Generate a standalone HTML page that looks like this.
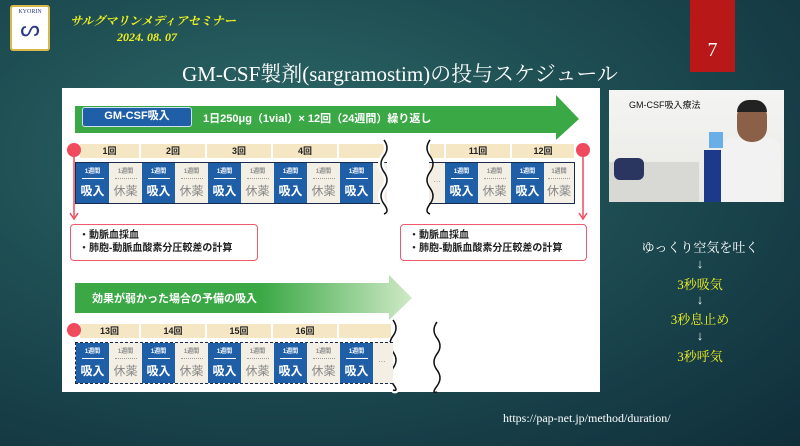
<!DOCTYPE html>
<html><head><meta charset="utf-8"><style>
*{margin:0;padding:0;box-sizing:border-box}
body{width:800px;height:446px;overflow:hidden;position:relative;font-family:"Liberation Sans","Noto Sans CJK JP",sans-serif;
background:radial-gradient(ellipse at 35% 35%,#2f6a6a 0%,#1f5054 40%,#163c46 75%,#0f2e3a 100%)}
.a{position:absolute}
.lbl{position:absolute;height:14px;background:#f5e6c4;font-size:9px;font-weight:bold;color:#222;text-align:center;line-height:14px}
.row{position:absolute;height:42px;background:#f3efe4}
.c{position:absolute;top:0;width:33px;height:100%;text-align:center}
.b{background:#1f5fa8;color:#fff}
.g{background:#f3efe4;color:#888}
.c .s{font-size:6px;font-weight:bold;margin-top:6px;line-height:7px}
.c .ln{width:22px;margin:2px auto 0;border-top:1.5px solid #fff}
.g .ln{border-top:1.5px dotted #999}
.c .m{font-size:12px;font-weight:bold;margin-top:3px}
.g .m{font-weight:normal}
.dot{position:absolute;width:14px;height:14px;border-radius:50%;background:#ef4a5e}
.box{position:absolute;border:1.5px solid #ef5a6c;border-radius:4px;background:#fff;font-size:10px;font-weight:bold;color:#222;padding:4px 0 0 8px;line-height:13px}
.y{color:#f0f020;font-family:"Liberation Serif","Noto Serif CJK SC",serif;font-size:13px;position:absolute;width:120px;text-align:center;left:640px}
.ar{color:#eee;font-size:13px;position:absolute;width:120px;text-align:center;left:640px}
</style></head><body>
<div class="a" style="left:10px;top:5px;width:40px;height:46px;background:#fff;border:2px solid #d8b84a;border-radius:3px;font-size:6px;color:#2a3a8a;text-align:center;font-family:'Liberation Serif',serif;padding-top:2px">KYORIN<div style="font-size:22px;line-height:28px">ᔕ</div></div>
<div class="a" style="left:70px;top:12px;font-family:'Liberation Serif','Noto Serif CJK SC',serif;font-style:italic;color:#f0f020;font-size:12px;font-weight:bold">サルグマリンメディアセミナー</div>
<div class="a" style="left:117px;top:30px;font-family:'Liberation Serif',serif;font-style:italic;color:#f0f020;font-size:12px;font-weight:bold">2024. 08. 07</div>
<div class="a" style="left:690px;top:0;width:45px;height:72px;background:#b81818;color:#fff;font-family:'Liberation Serif',serif;font-size:20px;text-align:center;line-height:100px">7</div>
<div class="a" style="left:0;width:800px;top:58px;text-align:center;color:#fff;font-family:'Liberation Serif','Noto Serif CJK SC',serif;font-size:21px">GM-CSF製剤(sargramostim)の投与スケジュール</div>

<div class="a" style="left:62px;top:88px;width:538px;height:304px;background:#fff"></div>

<svg class="a" style="left:0;top:0" width="800" height="446">
<defs><linearGradient id="gg" x1="0" x2="1"><stop offset="0" stop-color="#3aa845"/><stop offset="0.55" stop-color="#3aa845"/><stop offset="1" stop-color="#cfe9c6"/></linearGradient></defs>
<polygon points="75,106 556,106 556,95 579,119 556,140 556,133 75,133" fill="#3aa845"/>
<polygon points="75,283 389,283 389,275 412,298 389,320 389,313 75,313" fill="url(#gg)"/>
<line x1="74" y1="151" x2="74" y2="217" stroke="#ef4a5e" stroke-width="1.5"/>
<polyline points="70,213 74,219 78,213" fill="none" stroke="#ef4a5e" stroke-width="1.5"/>
<line x1="583" y1="151" x2="583" y2="217" stroke="#ef4a5e" stroke-width="1.5"/>
<polyline points="579,213 583,219 587,213" fill="none" stroke="#ef4a5e" stroke-width="1.5"/>
</svg>
<div class="a" style="left:82px;top:107px;width:110px;height:20px;background:#1f5fa8;border:1.5px solid #cfe0f5;border-radius:3px;color:#fff;font-size:11px;font-weight:bold;text-align:center;line-height:17px">GM-CSF吸入</div>
<div class="a" style="left:203px;top:110px;color:#fff;font-size:11px;font-weight:bold">1日250μg（1vial）× 12回（24週間）繰り返し</div>
<div class="a" style="left:92px;top:290px;color:#fff;font-size:11px;font-weight:bold">効果が弱かった場合の予備の吸入</div>

<div class="lbl" style="left:80px;top:144px;width:59px">1回</div>
<div class="lbl" style="left:141px;top:144px;width:64px">2回</div>
<div class="lbl" style="left:207px;top:144px;width:64px">3回</div>
<div class="lbl" style="left:273px;top:144px;width:64px">4回</div>
<div class="lbl" style="left:339px;top:144px;width:46px"></div>
<div class="lbl" style="left:430px;top:144px;width:14px"></div>
<div class="lbl" style="left:446px;top:144px;width:64px">11回</div>
<div class="lbl" style="left:512px;top:144px;width:62px">12回</div>
<div class="dot" style="left:67px;top:143px"></div>
<div class="dot" style="left:576px;top:143px"></div>

<div class="row" style="left:75px;top:162px;width:312px;border:1.5px solid #1a2a4a;border-right:none">
<div class="c b" style="left:0"><div class="s">1週間</div><div class="ln"></div><div class="m">吸入</div></div>
<div class="c g" style="left:33px"><div class="s">1週間</div><div class="ln"></div><div class="m">休薬</div></div>
<div class="c b" style="left:66px"><div class="s">1週間</div><div class="ln"></div><div class="m">吸入</div></div>
<div class="c g" style="left:99px"><div class="s">1週間</div><div class="ln"></div><div class="m">休薬</div></div>
<div class="c b" style="left:132px"><div class="s">1週間</div><div class="ln"></div><div class="m">吸入</div></div>
<div class="c g" style="left:165px"><div class="s">1週間</div><div class="ln"></div><div class="m">休薬</div></div>
<div class="c b" style="left:198px"><div class="s">1週間</div><div class="ln"></div><div class="m">吸入</div></div>
<div class="c g" style="left:231px"><div class="s">1週間</div><div class="ln"></div><div class="m">休薬</div></div>
<div class="c b" style="left:264px"><div class="s">1週間</div><div class="ln"></div><div class="m">吸入</div></div>
</div>
<div class="row" style="left:429px;top:162px;width:146px;border:1.5px solid #1a2a4a;border-left:none">
<div class="c g" style="left:0;width:16px;font-size:8px;line-height:34px">…</div>
<div class="c b" style="left:16px"><div class="s">1週間</div><div class="ln"></div><div class="m">吸入</div></div>
<div class="c g" style="left:49px"><div class="s">1週間</div><div class="ln"></div><div class="m">休薬</div></div>
<div class="c b" style="left:82px"><div class="s">1週間</div><div class="ln"></div><div class="m">吸入</div></div>
<div class="c g" style="left:115px;width:30px"><div class="s">1週間</div><div class="ln"></div><div class="m">休薬</div></div>
</div>
<svg class="a" style="left:0;top:0" width="800" height="446" fill="none" stroke="#111" stroke-width="1.5">
<path d="M384,140 q6,8 0,16 q-6,8 0,16 q6,8 0,16 q-6,8 0,16 q6,8 0,10" stroke="#fff" stroke-width="6"/>
<path d="M384,140 q6,8 0,16 q-6,8 0,16 q6,8 0,16 q-6,8 0,16 q6,8 0,10"/>
<path d="M430,140 q-6,8 0,16 q6,8 0,16 q-6,8 0,16 q6,8 0,16 q-6,8 0,10"/>
<path d="M393,320 q6,8 0,16 q-6,8 0,16 q6,8 0,16 q-6,8 0,16 q6,8 0,6" stroke="#fff" stroke-width="6"/>
<path d="M393,320 q6,8 0,16 q-6,8 0,16 q6,8 0,16 q-6,8 0,16 q6,8 0,6"/>
<path d="M437,322 q-6,8 0,16 q6,8 0,16 q-6,8 0,16 q6,8 0,16 q-6,8 0,6"/>
</svg>

<div class="box" style="left:70px;top:224px;width:188px;height:37px">・動脈血採血<br>・肺胞-動脈血酸素分圧較差の計算</div>
<div class="box" style="left:400px;top:224px;width:187px;height:37px">・動脈血採血<br>・肺胞-動脈血酸素分圧較差の計算</div>

<div class="lbl" style="left:80px;top:324px;width:59px">13回</div>
<div class="lbl" style="left:141px;top:324px;width:64px">14回</div>
<div class="lbl" style="left:207px;top:324px;width:64px">15回</div>
<div class="lbl" style="left:273px;top:324px;width:64px">16回</div>
<div class="lbl" style="left:339px;top:324px;width:52px"></div>
<div class="dot" style="left:67px;top:323px"></div>
<div class="row" style="left:75px;top:342px;width:318px;border:1.5px dashed #1a2a4a;border-right:none">
<div class="c b" style="left:0"><div class="s">1週間</div><div class="ln"></div><div class="m">吸入</div></div>
<div class="c g" style="left:33px"><div class="s">1週間</div><div class="ln"></div><div class="m">休薬</div></div>
<div class="c b" style="left:66px"><div class="s">1週間</div><div class="ln"></div><div class="m">吸入</div></div>
<div class="c g" style="left:99px"><div class="s">1週間</div><div class="ln"></div><div class="m">休薬</div></div>
<div class="c b" style="left:132px"><div class="s">1週間</div><div class="ln"></div><div class="m">吸入</div></div>
<div class="c g" style="left:165px"><div class="s">1週間</div><div class="ln"></div><div class="m">休薬</div></div>
<div class="c b" style="left:198px"><div class="s">1週間</div><div class="ln"></div><div class="m">吸入</div></div>
<div class="c g" style="left:231px"><div class="s">1週間</div><div class="ln"></div><div class="m">休薬</div></div>
<div class="c b" style="left:264px"><div class="s">1週間</div><div class="ln"></div><div class="m">吸入</div></div>
<div class="c g" style="left:297px;width:18px;font-size:8px;line-height:34px">…</div>
</div>

<div class="a" style="left:609px;top:90px;width:175px;height:112px;background:linear-gradient(#f4f4f2,#e8e8e4);overflow:hidden">
<div class="a" style="left:20px;top:8px;font-size:9px;color:#111">GM-CSF吸入療法</div>
<div class="a" style="left:0;top:72px;width:90px;height:40px;background:#d8d8d4"></div>
<div class="a" style="left:5px;top:68px;width:30px;height:22px;background:#2a3560;border-radius:6px"></div>
<div class="a" style="left:95px;top:60px;width:35px;height:52px;background:#1d3a8a"></div>
<div class="a" style="left:112px;top:48px;width:60px;height:64px;background:#f2f2f2;border-radius:12px 12px 0 0"></div>
<div class="a" style="left:128px;top:12px;width:30px;height:40px;background:#8a6048;border-radius:14px"></div>
<div class="a" style="left:128px;top:10px;width:30px;height:12px;background:#222;border-radius:12px 12px 0 0"></div>
<div class="a" style="left:100px;top:42px;width:14px;height:16px;background:#6aaee8"></div>
</div>

<div class="ar" style="top:237px;color:#fff;font-family:'Liberation Serif','Noto Serif CJK SC',serif">ゆっくり空気を吐く</div>
<div class="ar" style="top:256px">↓</div>
<div class="y" style="top:274px">3秒吸気</div>
<div class="ar" style="top:292px">↓</div>
<div class="y" style="top:309px">3秒息止め</div>
<div class="ar" style="top:328px">↓</div>
<div class="y" style="top:346px">3秒呼気</div>
<div class="a" style="left:503px;top:411px;color:#fff;font-family:'Liberation Serif',serif;font-size:12px">https://pap-net.jp/method/duration/</div>
</body></html>
